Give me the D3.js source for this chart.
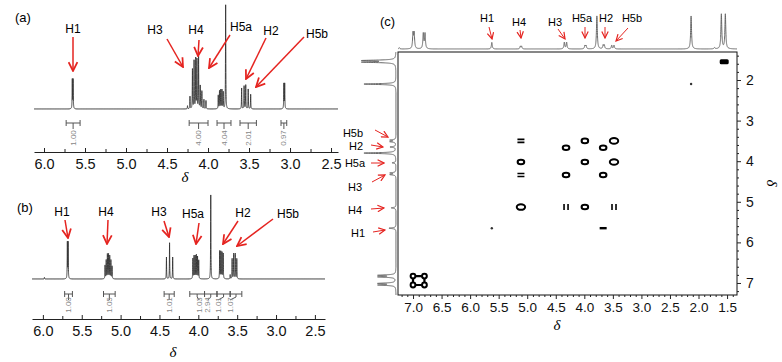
<!DOCTYPE html>
<html>
<head>
<meta charset="utf-8">
<title>1H and COSY spectra</title>
<style>
  body { margin: 0; background: #fff; }
  svg { font-family: "Liberation Sans", Arial, sans-serif; }
  .delta { font-family: "Liberation Serif", "DejaVu Serif", serif; font-style: italic; }
  .tick line { stroke: #222; }
</style>
</head>
<body>
<svg id="chart" width="782" height="362"></svg>
<script src="https://cdn.jsdelivr.net/npm/d3@7"></script>
<script>

////////////////////////////////////
/////////////// Data ///////////////
////////////////////////////////////

// spectrum (a): [ppm, relative intensity]
const peaksA = [
  [5.655, 28], [5.645, 28],
  [4.25, 3],
  [4.22, 12], [4.19, 38], [4.17, 46], [4.15, 48], [4.135, 47], [4.115, 50],
  [4.095, 22], [4.075, 17], [4.05, 9], [4.025, 8],
  [3.875, 13], [3.86, 17], [3.845, 18], [3.83, 18], [3.815, 16],
  [3.785, 100],
  [3.59, 20], [3.56, 22], [3.54, 23], [3.51, 19], [3.48, 14],
  [3.075, 24], [3.065, 24]
]
const integralsA = [
  [5.73, 5.56, "1.00"], [4.23, 4.00, "4.00"], [3.89, 3.72, "4.04"],
  [3.61, 3.41, "2.01"], [3.11, 3.04, "0.97"]
]

// spectrum (b)
const peaksB = [
  [5.98, 2],
  [5.685, 43], [5.675, 43],
  [5.20, 16], [5.185, 22], [5.17, 29], [5.155, 29], [5.14, 27], [5.125, 22], [5.11, 15],
  [4.41, 26], [4.37, 43], [4.33, 26],
  [4.07, 24], [4.055, 27], [4.04, 27], [4.025, 28], [4.01, 26], [3.995, 22],
  [3.84, 100],
  [3.725, 33], [3.71, 32], [3.695, 31], [3.68, 30],
  [3.59, 5],
  [3.565, 24], [3.545, 30], [3.525, 30], [3.505, 24]
]
const integralsB = [
  [5.72, 5.62, "1.00"], [5.22, 5.07, "1.05"], [4.44, 4.31, "1.01"],
  [4.11, 3.92, "1.03"], [3.92, 3.76, "2.94"], [3.76, 3.59, "1.01"], [3.59, 3.44, "1.07"]
]

const ticksAB = [6.0, 5.5, 5.0, 4.5, 4.0, 3.5, 3.0, 2.5]

// spectrum (c): 1D projections
const peaksTop = [
  [7.24, 4],
  [7.00, 46], [6.98, 46], [6.82, 46], [6.79, 46],
  [5.62, 20],
  [5.12, 8], [5.10, 8],
  [4.35, 20], [4.31, 20],
  [3.99, 10], [3.97, 10],
  [3.78, 100],
  [3.67, 11], [3.65, 11],
  [3.52, 11], [3.48, 11],
  [2.13, 100],
  [1.72, 4],
  [1.60, 105], [1.53, 105]
]
const peaksLeft = [
  [1.52, 100], [1.56, 100], [2.10, 100],
  [3.48, 18], [3.52, 18], [3.65, 18],
  [3.80, 100],
  [4.04, 12],
  [4.29, 18], [4.33, 18],
  [5.15, 15],
  [5.65, 22],
  [6.81, 53], [6.85, 53], [7.01, 53], [7.05, 53]
]
// cross peaks: [x ppm, y ppm, kind]
const crossPeaks = [
  [5.11, 3.50, "="], [3.99, 3.50, "o"], [3.48, 3.50, "O"],
  [4.32, 3.67, "o"], [3.67, 3.67, "o"],
  [5.11, 4.02, "o"], [3.99, 4.02, "o"], [3.48, 4.02, "O"],
  [5.11, 4.34, "="], [4.32, 4.34, "o"], [3.67, 4.34, "o"],
  [5.11, 5.13, "O"], [4.32, 5.13, "||"], [3.99, 5.13, "o"], [3.48, 5.13, "||"],
  [5.62, 5.65, "."], [3.67, 5.65, "-"],
  [2.13, 2.10, "."], [1.55, 1.55, "D"]
]
const aromaticCross = [[7.0, 6.83], [6.8, 6.83], [6.8, 7.05], [7.0, 7.05]]

const ticksCx = [7.0, 6.5, 6.0, 5.5, 5.0, 4.5, 4.0, 3.5, 3.0, 2.5, 2.0, 1.5]
const ticksCy = [2, 3, 4, 5, 6, 7]

const namesA = ["H1", "H3", "H4", "H5a", "H2", "H5b"]
const namesB = ["H1", "H4", "H3", "H5a", "H2", "H5b"]
const namesTop = ["H1", "H4", "H3", "H5a", "H2", "H5b"]
const namesLeft = ["H5b", "H2", "H5a", "H3", "H4", "H1"]

////////////////////////////////////
/////////////// Layout /////////////
////////////////////////////////////

const red = "#e52420"
// label centre [x, y] and arrow [x1, y1, x2, y2]
const layoutA = [
  [73, 29, 73, 37, 73, 71], [155, 30, 167, 39, 183, 67], [196, 30, 199, 40, 198, 56],
  [241, 27, 230, 35, 209, 68], [271, 31, 266, 38, 246, 79], [317, 34, 304, 37, 256, 87]
]
const layoutB = [
  [62, 212, 65, 220, 68, 238], [106, 212, 108, 220, 107, 244], [159, 212, 164, 221, 169, 237],
  [193, 214, 199, 223, 196, 244], [243, 213, 238, 221, 223, 244], [288, 214, 273, 219, 237, 246]
]
const layoutTop = [
  [487, 18, 489, 27, 492, 39], [519, 22, 520, 30, 521, 38], [555, 22, 558, 29, 565, 39],
  [582, 18, 585, 27, 585, 38], [606, 18, 605, 27, 605, 38], [632, 18, 628, 28, 616, 41]
]
const layoutLeft = [
  [353, 133, 375, 130, 388, 137], [356, 146, 371, 145, 383, 147], [355, 163, 371, 163, 384, 163],
  [355, 187, 372, 182, 385, 175], [355, 210, 371, 209, 384, 208], [358, 233, 373, 232, 385, 230]
]

const svg = d3.select('#chart')

// arrow heads
const defs = svg.append('defs')
function chevron(id, size, sw) {
  defs.append('marker')
    .attr('id', id)
    .attr('viewBox', '0 0 10 10')
    .attr('refX', 9).attr('refY', 5)
    .attr('markerWidth', size).attr('markerHeight', size)
    .attr('markerUnits', 'userSpaceOnUse')
    .attr('orient', 'auto')
    .append('path')
    .attr('d', 'M1,1 L9,5 L1,9')
    .attr('fill', 'none')
    .attr('stroke', red)
    .attr('stroke-width', sw)
}
chevron('ahBig', 11, 1.6)
chevron('ahSmall', 8, 1.5)

////////////////////////////////////
/////////////// Helpers ////////////
////////////////////////////////////

function lorentz(peaks, gamma, lo, hi, step) {
  const g2 = gamma * gamma
  const grid = d3.range(lo, hi, step).concat(peaks.map(k => k[0])).sort(d3.ascending)
  return grid.map(p => [p, d3.sum(peaks, k => k[1] * g2 / ((p - k[0]) ** 2 + g2))])
}

function annotate(names, layout, fontSize, marker, sw) {
  names.forEach((n, i) => {
    const L = layout[i]
    svg.append('text')
      .attr('x', L[0]).attr('y', L[1])
      .attr('text-anchor', 'middle')
      .attr('dominant-baseline', 'central')
      .style('font-size', fontSize + 'px')
      .text(n)
    svg.append('line')
      .attr('x1', L[2]).attr('y1', L[3])
      .attr('x2', L[4]).attr('y2', L[5])
      .attr('stroke', red).attr('stroke-width', sw)
      .attr('marker-end', `url(#${marker})`)
  })
}

function integrals(list, x, yb, ylab, shifts) {
  list.forEach(([p0, p1, lab], i) => {
    const x0 = x(p0), x1 = x(p1), xm = (x0 + x1) / 2
    const xl = xm + (shifts ? shifts[i] : 0)
    svg.append('path')
      .attr('d', `M${x0},${yb - 3}V${yb + 3}M${x0},${yb}H${x1}M${x1},${yb - 3}V${yb + 3}M${xm},${yb}V${yb + 3}L${xl},${yb + 6}`)
      .attr('fill', 'none').attr('stroke', '#555').attr('stroke-width', 1)
    svg.append('text')
      .attr('transform', `translate(${xl},${ylab}) rotate(-90)`)
      .attr('text-anchor', 'middle')
      .attr('dominant-baseline', 'central')
      .style('font-size', '8px')
      .attr('fill', '#888')
      .text(lab)
  })
}

function ppmAxis(x, y0, minor) {
  svg.append('g')
    .attr('transform', `translate(0,${y0})`)
    .call(d3.axisBottom(x).tickValues(ticksAB).tickSizeInner(-4).tickSizeOuter(0)
      .tickPadding(7).tickFormat(d3.format('.1f')))
    .call(g => g.selectAll('text').style('font-size', '14.5px').attr('fill', '#111'))
    .call(g => g.select('.domain').attr('stroke', '#222').attr('stroke-width', 1.2))
  svg.append('g')
    .attr('transform', `translate(0,${y0})`)
    .call(d3.axisBottom(x).tickValues(minor).tickSize(-3).tickFormat(''))
    .call(g => g.select('.domain').remove())
}

////////////////////////////////////
/////////////// Panel (a) //////////
////////////////////////////////////

const xA = d3.scaleLinear().domain([6.122, 2.415]).range([34, 338])
const yA = d3.scaleLinear().domain([0, 100]).range([109, 5])

svg.append('path')
  .datum(lorentz(peaksA, 0.0022, 2.415, 6.122, 0.0005))
  .attr('d', d3.line().x(d => xA(d[0])).y(d => yA(d[1])))
  .attr('fill', 'none').attr('stroke', '#333').attr('stroke-width', 0.9)

ppmAxis(xA, 152, [5.75, 5.25, 4.75, 4.25, 3.75, 3.25, 2.75])
integrals(integralsA, xA, 123, 138)
annotate(namesA, layoutA, 12, 'ahBig', 1.5)

svg.append('text').attr('x', 15).attr('y', 22).style('font-size', '13px').text('(a)')
svg.append('text').attr('class', 'delta').attr('x', 185).attr('y', 182)
  .attr('text-anchor', 'middle').style('font-size', '15px').text('δ')

////////////////////////////////////
/////////////// Panel (b) //////////
////////////////////////////////////

const xB = d3.scaleLinear().domain([6.14, 2.37]).range([32, 325])
const yB = d3.scaleLinear().domain([0, 100]).range([279, 195])

svg.append('path')
  .datum(lorentz(peaksB, 0.0022, 2.37, 6.14, 0.0005))
  .attr('d', d3.line().x(d => xB(d[0])).y(d => yB(d[1])))
  .attr('fill', 'none').attr('stroke', '#333').attr('stroke-width', 0.9)

ppmAxis(xB, 319, [5.75, 5.25, 4.75, 4.25, 3.75, 3.25, 2.75])
integrals(integralsB, xB, 294, 305, [0, 0, 0, 2, -3, -5.5, -6])
annotate(namesB, layoutB, 12, 'ahBig', 1.5)

svg.append('text').attr('x', 17).attr('y', 212).style('font-size', '13px').text('(b)')
svg.append('text').attr('class', 'delta').attr('x', 173).attr('y', 357)
  .attr('text-anchor', 'middle').style('font-size', '15px').text('δ')

////////////////////////////////////
/////////////// Panel (c) //////////
////////////////////////////////////

const xC = d3.scaleLinear().domain([7.263, 1.326]).range([398, 737])
const yC = d3.scaleLinear().domain([1.310, 7.296]).range([52, 295])
const yTop = d3.scaleLinear().domain([0, 100]).range([49, 16])
const xLeft = d3.scaleLinear().domain([0, 100]).range([396, 364])

// top projection
svg.append('path')
  .datum(lorentz(peaksTop, 0.009, 1.326, 7.263, 0.001))
  .attr('d', d3.line().x(d => xC(d[0])).y(d => yTop(d[1])))
  .attr('fill', 'none').attr('stroke', '#666').attr('stroke-width', 1)

// left projection
svg.append('path')
  .datum(lorentz(peaksLeft, 0.012, 1.310, 7.296, 0.001))
  .attr('d', d3.line().x(d => xLeft(d[1])).y(d => yC(d[0])))
  .attr('fill', 'none').attr('stroke', '#666').attr('stroke-width', 1)

// frame
svg.append('rect')
  .attr('x', 398).attr('y', 52).attr('width', 339).attr('height', 243)
  .attr('fill', 'none').attr('stroke', '#111').attr('stroke-width', 1)

// bottom axis
svg.append('g')
  .attr('transform', 'translate(0,295)')
  .call(d3.axisBottom(xC).tickValues(ticksCx).tickSizeInner(4).tickSizeOuter(0)
    .tickPadding(3).tickFormat(d3.format('.1f')))
  .call(g => g.selectAll('text').style('font-size', '13.5px').attr('fill', '#111'))
  .call(g => g.select('.domain').remove())
svg.append('g')
  .attr('transform', 'translate(0,295)')
  .call(d3.axisBottom(xC).tickValues(d3.range(1.4, 7.25, 0.1).filter(v => Math.abs(v * 2 - Math.round(v * 2)) > 0.01))
    .tickSize(2).tickFormat(''))
  .call(g => g.select('.domain').remove())

// right axis
svg.append('g')
  .attr('transform', 'translate(737,0)')
  .call(d3.axisRight(yC).tickValues(ticksCy).tickSizeInner(4).tickSizeOuter(0).tickPadding(5)
    .tickFormat(d3.format('d')))
  .call(g => g.selectAll('text').style('font-size', '14px').attr('fill', '#111'))
  .call(g => g.select('.domain').remove())
svg.append('g')
  .attr('transform', 'translate(737,0)')
  .call(d3.axisRight(yC).tickValues(d3.range(1.4, 7.3, 0.2).filter(v => Math.abs(v - Math.round(v)) > 0.01))
    .tickSize(2).tickFormat(''))
  .call(g => g.select('.domain').remove())

// cross peaks
const cp = svg.append('g')
crossPeaks.forEach(([px, py, kind]) => {
  const cx = xC(px), cy = yC(py)
  if (kind === 'o' || kind === 'O') {
    const big = kind === 'O'
    cp.append('ellipse')
      .attr('cx', cx).attr('cy', cy)
      .attr('rx', big ? 4.2 : 3.3).attr('ry', big ? 2.8 : 2.3)
      .attr('fill', 'none').attr('stroke', '#000').attr('stroke-width', 2)
  } else if (kind === '=') {
    cp.append('path')
      .attr('d', `M${cx - 3.5},${cy - 1.5}H${cx + 3.5}M${cx - 3.5},${cy + 1.5}H${cx + 3.5}`)
      .attr('stroke', '#000').attr('stroke-width', 1.6)
  } else if (kind === '||') {
    cp.append('path')
      .attr('d', `M${cx - 2},${cy - 3}V${cy + 3}M${cx + 2},${cy - 3}V${cy + 3}`)
      .attr('stroke', '#000').attr('stroke-width', 1.6)
  } else if (kind === '-') {
    cp.append('rect').attr('x', cx - 3.5).attr('y', cy - 1.2).attr('width', 7).attr('height', 2.4)
  } else if (kind === 'D') {
    cp.append('rect').attr('x', cx - 4.5).attr('y', cy - 2.5).attr('width', 9).attr('height', 5).attr('rx', 1.5)
  } else {
    cp.append('circle').attr('cx', cx).attr('cy', cy).attr('r', 1.2).attr('fill', '#333')
  }
})

// aromatic cross peaks
svg.append('path')
  .datum(aromaticCross)
  .attr('d', d3.line().x(d => xC(d[0])).y(d => yC(d[1])).curve(d3.curveLinearClosed))
  .attr('fill', 'none').attr('stroke', '#000').attr('stroke-width', 2.2)
svg.selectAll('.arom')
  .data(aromaticCross)
  .enter()
  .append('circle')
  .attr('class', 'arom')
  .attr('cx', d => xC(d[0])).attr('cy', d => yC(d[1]))
  .attr('r', 2.4)
  .attr('fill', '#fff').attr('stroke', '#000').attr('stroke-width', 2)

annotate(namesTop, layoutTop, 11, 'ahSmall', 1)
annotate(namesLeft, layoutLeft, 11, 'ahSmall', 1)

svg.append('text').attr('x', 380).attr('y', 26).style('font-size', '13px').text('(c)')
svg.append('text').attr('class', 'delta').attr('x', 557).attr('y', 330)
  .attr('text-anchor', 'middle').style('font-size', '15px').text('δ')
svg.append('text').attr('class', 'delta')
  .attr('transform', 'translate(772,183) rotate(90)')
  .attr('text-anchor', 'middle').attr('dominant-baseline', 'central')
  .style('font-size', '15px').text('δ')

</script>
</body>
</html>
